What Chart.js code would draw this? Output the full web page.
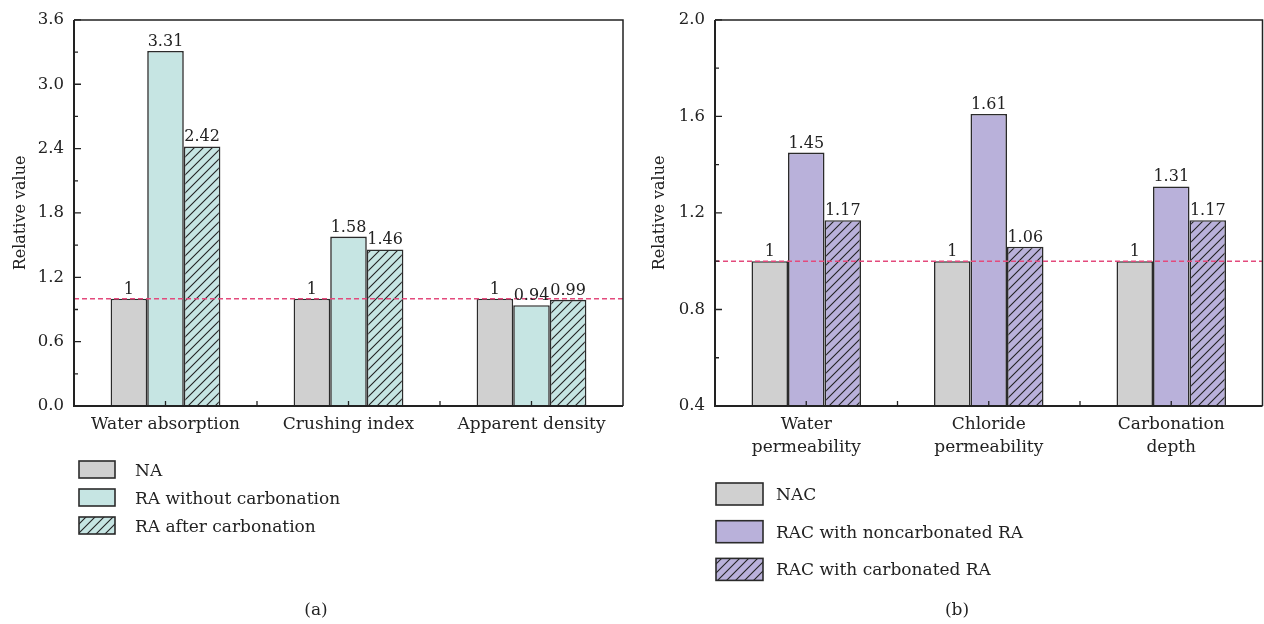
<!DOCTYPE html>
<html>
<head>
<meta charset="utf-8">
<script src="https://cdn.jsdelivr.net/npm/chart.js@4"></script>
<style>
  html, body { margin: 0; padding: 0; background: #fff; }
  #wrap { position: relative; width: 1264px; height: 624px; overflow: hidden; }
  .panel { position: absolute; top: 0; width: 632px; height: 624px; }
  #pa { left: 0; }
  #pb { left: 632px; }
  .cap { position: absolute; top: 599px; font: 17px 'DejaVu Serif', serif; line-height: 20px; color: #222; transform: translateX(-50%); }
</style>
</head>
<body>
<div id="wrap">
  <div class="panel" id="pa"><canvas id="chartA" width="632" height="624"></canvas></div>
  <div class="panel" id="pb"><canvas id="chartB" width="632" height="624"></canvas></div>
  <div class="cap" style="left:316px">(a)</div>
  <div class="cap" style="left:957px">(b)</div>
</div>
<script>
// ---- data: (a) aggregate properties ----
const aggregateProps = ['Water absorption', 'Crushing index', 'Apparent density'];
const naValues = [1, 1, 1];
const raPlainValues = [3.31, 1.58, 0.94];
const raCarbValues = [2.42, 1.46, 0.99];
const aSeriesNames = ['NA', 'RA without carbonation', 'RA after carbonation'];

// ---- data: (b) concrete durability ----
const concreteProps = [['Water', 'permeability'], ['Chloride', 'permeability'], ['Carbonation', 'depth']];
const nacValues = [1, 1, 1];
const racPlainValues = [1.45, 1.61, 1.31];
const racCarbValues = [1.17, 1.06, 1.17];
const bSeriesNames = ['NAC', 'RAC with noncarbonated RA', 'RAC with carbonated RA'];

// ---- value axes: [min, max, minor step, labelled step] ----
const axisA = [0, 3.6, 0.3, 0.6];
const axisB = [0.4, 2.0, 0.2, 0.4];
const referenceLevel = 1;

const FONT = "'DejaVu Serif', serif";
const INK = '#222';
const EDGE = '#2b2b2b';

function hatch(bg) {
  const s = 9;
  const c = document.createElement('canvas');
  c.width = s; c.height = s;
  const g = c.getContext('2d');
  g.fillStyle = bg;
  g.fillRect(0, 0, s, s);
  g.strokeStyle = '#222';
  g.lineWidth = 1.1;
  g.beginPath();
  g.moveTo(0, s); g.lineTo(s, 0);
  g.moveTo(-2, 2); g.lineTo(2, -2);
  g.moveTo(s - 2, s + 2); g.lineTo(s + 2, s - 2);
  g.stroke();
  return g.createPattern(c, 'repeat');
}

const GREY = '#d0d0d0';
const TEAL = '#c6e5e3';
const LILAC = '#b9b1da';

// dashed reference, value labels, inward ticks and the frame
const plotDecor = {
  id: 'plotDecor',
  afterDatasetsDraw(chart, _args, o) {
    const { ctx, chartArea: a, scales: { x, y } } = chart;
    ctx.save();

    // reference level
    const ry = y.getPixelForValue(o.refValue);
    ctx.strokeStyle = '#e34a7c';
    ctx.lineWidth = 1.5;
    ctx.setLineDash([5, 3]);
    ctx.beginPath();
    ctx.moveTo(a.left, ry);
    ctx.lineTo(a.right, ry);
    ctx.stroke();
    ctx.setLineDash([]);

    // value labels above the bars
    ctx.fillStyle = INK;
    ctx.font = '16px ' + FONT;
    ctx.textAlign = 'center';
    ctx.textBaseline = 'alphabetic';
    chart.data.datasets.forEach((ds, di) => {
      chart.getDatasetMeta(di).data.forEach((bar, i) => {
        ctx.fillText(String(ds.data[i]), bar.x, bar.y - 5);
      });
    });

    // inward tick marks
    ctx.strokeStyle = INK;
    ctx.lineWidth = 1.3;
    ctx.beginPath();
    y.ticks.forEach(t => {
      const py = y.getPixelForValue(t.value);
      const len = t.label ? 7 : 4;
      ctx.moveTo(a.left, py);
      ctx.lineTo(a.left + len, py);
    });
    const n = x.ticks.length;
    for (let v = 0; v <= n - 1; v += 0.5) {
      const px = x.getPixelForValue(v);
      ctx.moveTo(px, a.bottom);
      ctx.lineTo(px, a.bottom - 5);
    }
    ctx.stroke();

    // frame
    ctx.lineWidth = 1.5;
    ctx.beginPath();
    ctx.moveTo(a.left, a.top);
    ctx.lineTo(a.right, a.top);
    ctx.lineTo(a.right, a.bottom);
    ctx.stroke();
    ctx.lineWidth = 2;
    ctx.beginPath();
    ctx.moveTo(a.left, a.top);
    ctx.lineTo(a.left, a.bottom);
    ctx.lineTo(a.right, a.bottom);
    ctx.stroke();
    ctx.restore();
  }
};

// single-column legend below the plot
const columnLegend = {
  id: 'columnLegend',
  afterDraw(chart, _args, o) {
    const { ctx } = chart;
    ctx.save();
    ctx.font = '17px ' + FONT;
    ctx.textAlign = 'left';
    ctx.textBaseline = 'alphabetic';
    chart.data.datasets.forEach((ds, i) => {
      const cy = o.y + i * o.gap;
      ctx.fillStyle = ds.backgroundColor;
      ctx.fillRect(o.x, cy - o.h / 2, o.w, o.h);
      ctx.strokeStyle = EDGE;
      ctx.lineWidth = 1.6;
      ctx.strokeRect(o.x, cy - o.h / 2, o.w, o.h);
      ctx.fillStyle = INK;
      ctx.fillText(ds.label, o.textX, cy + 6);
    });
    ctx.restore();
  }
};

function isStep(v, step) {
  const r = v / step;
  return Math.abs(r - Math.round(r)) < 1e-6;
}

function buildChart(el, p) {
  const [ymin, ymax, minor, major] = p.axis;
  return new Chart(el, {
    type: 'bar',
    data: {
      labels: p.categories,
      datasets: p.series.map(s => ({
        label: s.label,
        data: s.values,
        backgroundColor: s.fill,
        borderColor: EDGE,
        borderWidth: 1.6,
        borderSkipped: 'start',
        categoryPercentage: 0.6,
        barPercentage: 1.0
      }))
    },
    options: {
      responsive: false,
      animation: false,
      events: [],
      layout: { padding: { top: 16, right: p.padRight, left: 0, bottom: 0 } },
      scales: {
        x: {
          type: 'category',
          offset: true,
          grid: { display: false, drawTicks: false },
          border: { display: false },
          ticks: {
            color: INK,
            font: { family: FONT, size: 17, lineHeight: p.xLineHeight },
            padding: p.xPad,
            maxRotation: 0,
            autoSkip: false
          },
          afterFit(s) { s.height = 218; }
        },
        y: {
          min: ymin,
          max: ymax,
          grid: { display: false, drawTicks: false },
          border: { display: false },
          ticks: {
            stepSize: minor,
            autoSkip: false,
            color: INK,
            font: { family: FONT, size: 16.5 },
            padding: 10,
            callback: v => (isStep(v, major) ? v.toFixed(1) : '')
          },
          title: {
            display: true,
            text: 'Relative value',
            color: INK,
            font: { family: FONT, size: 16 },
            padding: { top: p.titlePad, bottom: 0 }
          },
          afterFit(s) { s.width = p.yWidth; }
        }
      },
      plugins: {
        legend: { display: false },
        tooltip: { enabled: false },
        plotDecor: { refValue: referenceLevel },
        columnLegend: p.legend
      }
    },
    plugins: [plotDecor, columnLegend]
  });
}

buildChart(document.getElementById('chartA'), {
  categories: aggregateProps,
  axis: axisA,
  series: [
    { label: aSeriesNames[0], values: naValues, fill: GREY },
    { label: aSeriesNames[1], values: raPlainValues, fill: TEAL },
    { label: aSeriesNames[2], values: raCarbValues, fill: hatch(TEAL) }
  ],
  padRight: 9,
  yWidth: 74,
  titlePad: 11,
  xPad: 8.8,
  xLineHeight: 1.2,
  legend: { x: 79, w: 36, h: 17, y: 469.5, gap: 28, textX: 135 }
});

buildChart(document.getElementById('chartB'), {
  categories: concreteProps,
  axis: axisB,
  series: [
    { label: bSeriesNames[0], values: nacValues, fill: GREY },
    { label: bSeriesNames[1], values: racPlainValues, fill: LILAC },
    { label: bSeriesNames[2], values: racCarbValues, fill: hatch(LILAC) }
  ],
  padRight: 1.5,
  yWidth: 83,
  titlePad: 18.4,
  xPad: 7.5,
  xLineHeight: 23 / 17,
  legend: { x: 84, w: 47, h: 22, y: 494, gap: 37.7, textX: 144 }
});
</script>
</body>
</html>
